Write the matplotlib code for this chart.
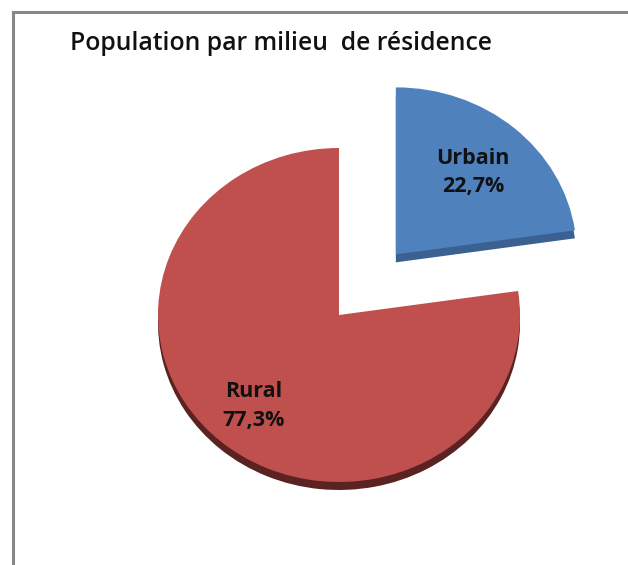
import matplotlib
matplotlib.use("Agg")
import matplotlib.pyplot as plt
import numpy as np
from matplotlib.lines import Line2D

# ---- data ----
labels = ["Urbain", "Rural"]
values = [22.7, 77.3]
colors = ["#4F81BD", "#C0504D"]
depth_colors = ["#3A6191", "#5A2221"]
explode_frac = [0.48, 0.0]
title = "Population par milieu  de résidence"

W, H = 628, 565
fig = plt.figure(figsize=(W / 100, H / 100), dpi=100)
ax = fig.add_axes([0, 0, 1, 1])

rx, ry = 181.0, 167.0          # pixel radii of the tilted pie
sy = rx / ry                    # data-y units per pixel
cx, cy_img = 339.0, 315.0
center = (cx, (H - cy_img) * sy)
depth = 8.0 * sy
explode = [e * rx for e in explode_frac]   # pie's explode offset is absolute

# depth (side) layer
ax.pie(values, explode=explode, colors=depth_colors, startangle=90,
       counterclock=False, radius=rx, center=(center[0], center[1] - depth),
       wedgeprops=dict(linewidth=0), frame=True)
# top surface
wedges, _ = ax.pie(values, explode=explode, colors=colors, startangle=90,
                   counterclock=False, radius=rx, center=center,
                   wedgeprops=dict(linewidth=0), frame=True)

# labels
total = sum(values)
start = 90.0
dists = [0.65, 0.72]
for lab, v, e, d in zip(labels, values, explode_frac, dists):
    span = 360.0 * v / total
    mid = np.deg2rad(start - span / 2)
    start -= span
    ox = cx + e * rx * np.cos(mid)
    oy = center[1] + e * rx * np.sin(mid)
    tx = ox + d * rx * np.cos(mid)
    ty = oy + d * rx * np.sin(mid)
    txt = f"{lab}\n{v:.1f}%".replace(".", ",")
    ax.text(tx, ty, txt, ha="center", va="center", fontsize=15.5,
            fontweight="bold", family="Open Sans", linespacing=1.45,
            color="#111111")

ax.set_aspect("auto")
ax.set_xlim(0, W)
ax.set_ylim(0, H * sy)
ax.axis("off")

# title
fig.text(70 / W, 1 - 50 / H, title, ha="left", va="baseline", fontsize=17.8,
         fontweight="semibold", family="Open Sans", color="#111111")

# frame (left and top border)
fig.add_artist(Line2D([13 / W, 13 / W], [0, 1 - 12 / H], color="#878787",
                      lw=2.2, transform=fig.transFigure, solid_capstyle="projecting"))
fig.add_artist(Line2D([13 / W, 1], [1 - 12 / H, 1 - 12 / H], color="#878787",
                      lw=2.2, transform=fig.transFigure, solid_capstyle="projecting"))

fig.savefig("out.png", dpi=100)
